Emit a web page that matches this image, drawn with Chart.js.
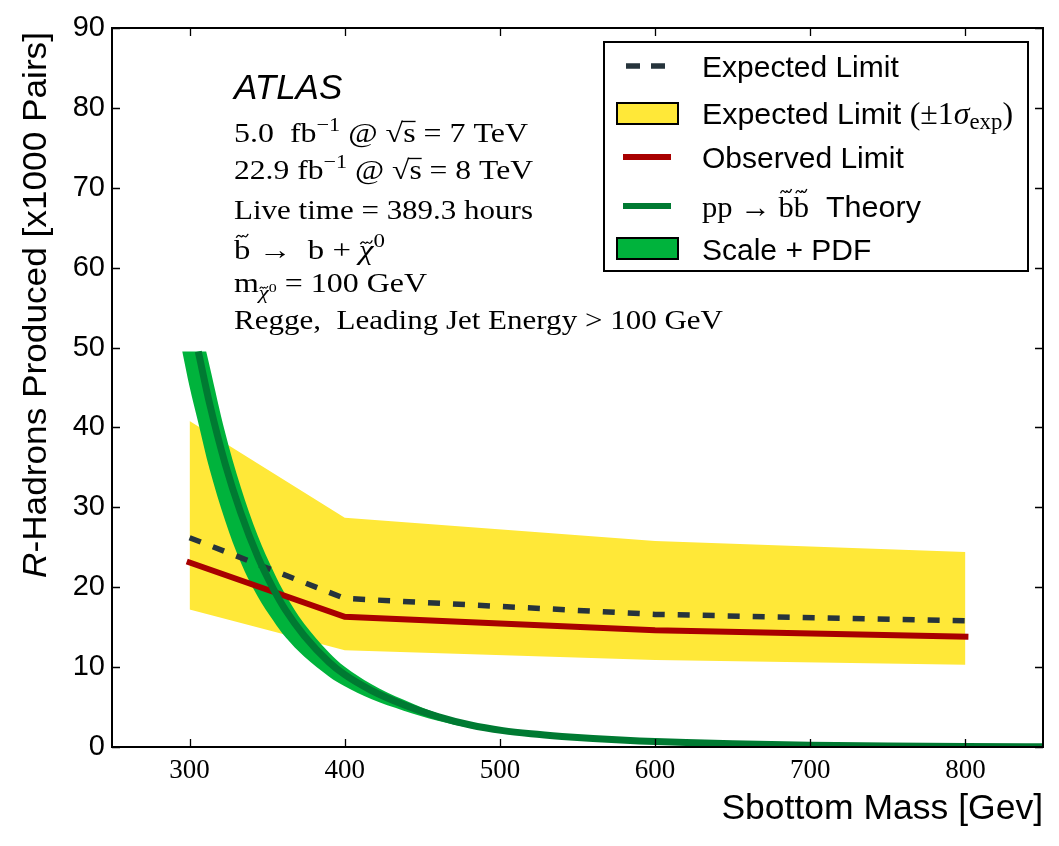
<!DOCTYPE html>
<html><head><meta charset="utf-8">
<script src="https://cdn.jsdelivr.net/npm/chart.js@4.4.1/dist/chart.umd.min.js"></script>
<style>html,body{margin:0;padding:0;background:#fff;}#wrap{position:relative;width:1059px;height:846px;}canvas{display:block;}</style>
</head><body><div id="wrap"><canvas id="c" width="1059" height="846"></canvas></div>
<script>
// ---- data ----
const massPoints    = [300, 400, 600, 800];
const expectedLimit = [26.2, 18.6, 16.6, 15.8];
const expectedUpper = [40.8, 28.7, 25.8, 24.4];
const expectedLower = [17.2, 12.1, 10.9, 10.3];
const observedLimit = [23.1, 16.3, 14.6, 13.8];

const theoryMass = [305.6, 313, 323, 333, 344, 354, 362, 374, 390, 400, 417, 438, 460, 481, 502, 520, 540, 560, 590, 620, 650, 700, 750, 800, 850];
const theoryXsec = [49.5, 42.9, 35.4, 29.3, 23.8, 19.8, 17.1, 13.9, 10.6, 9.05, 7.1, 5.3, 3.8, 2.75, 2.05, 1.65, 1.32, 1.06, 0.76, 0.55, 0.40, 0.23, 0.13, 0.07, 0.04];
const theoryUpMass = [310.7, 313, 323, 333, 344, 354, 362, 374, 390, 400, 417, 438, 460, 481, 502, 520, 540, 560, 590, 620, 650, 700, 750, 800, 850];
const theoryUp     = [49.5, 47.6, 39.3, 32.5, 26.4, 22.0, 19.0, 15.4, 11.8, 10.05, 7.9, 5.9, 4.2, 3.05, 2.27, 1.82, 1.45, 1.17, 0.83, 0.60, 0.44, 0.25, 0.14, 0.077, 0.044];
const theoryDownMass = [295.3, 300, 305.6, 313, 323, 333, 344, 354, 362, 374, 390, 400, 417, 438, 460, 481, 502, 520, 540, 560, 590, 620, 650, 700, 750, 800, 850];
const theoryDown     = [49.5, 45.1, 40.6, 34.7, 28.3, 23.1, 18.8, 15.8, 13.7, 11.3, 8.8, 7.6, 6.0, 4.55, 3.3, 2.4, 1.8, 1.45, 1.16, 0.93, 0.67, 0.48, 0.35, 0.20, 0.115, 0.062, 0.035];

const xTickValues = [300, 400, 500, 600, 700, 800];
const yTickValues = [0, 10, 20, 30, 40, 50, 60, 70, 80, 90];

const legendLabels = ['Expected Limit', 'Expected Limit', 'Observed Limit', 'Theory', 'Scale + PDF'];
const xTitle = 'Sbottom Mass [Gev]';
const yTitleItalic = 'R';
const yTitleRest = '-Hadrons Produced [x1000 Pairs]';

// ---- colours ----
const C_YELLOW = '#ffe838';
const C_GREEN_BAND = '#00b33c';
const C_GREEN_LINE = '#007a32';
const C_RED = '#a80000';
const C_DASH = '#26343c';

const pts = (xs, ys) => xs.map((x, i) => ({x, y: ys[i]}));
const bandShape = pts(theoryDownMass, theoryDown).concat(pts(theoryUpMass, theoryUp).reverse());

const SERIF = '"Liberation Serif", "DejaVu Serif", serif';
const SANS = '"Liberation Sans", Arial, sans-serif';

function segFont(s, base) {
  const size = base * (s.k || 1);
  return (s.it ? 'italic ' : '') + size + 'px ' + (s.sans ? SANS : SERIF);
}
function drawRich(ctx, segs, x, y, base, targetW) {
  let nat = 0;
  for (const s of segs) { ctx.font = segFont(s, base); nat += ctx.measureText(s.t).width; }
  const sx = targetW ? targetW / nat : 1;
  ctx.save();
  ctx.translate(x, y);
  ctx.scale(sx, 1);
  ctx.textAlign = 'left';
  ctx.textBaseline = 'alphabetic';
  let cx = 0;
  for (const s of segs) {
    ctx.font = segFont(s, base);
    const w = ctx.measureText(s.t).width;
    const dy = (s.dy || 0) * base;
    ctx.fillText(s.t, cx, dy);
    const size = base * (s.k || 1);
    if (s.tilde) {
      const cxm = cx + w / 2 + (s.tx || 0) * size;
      const hy = dy - s.tilde * size;
      const tw = 0.36 * size, th = 0.07 * size;
      ctx.save();
      ctx.lineWidth = Math.max(1, 0.045 * size);
      ctx.beginPath();
      ctx.moveTo(cxm - tw / 2, hy + th);
      ctx.bezierCurveTo(cxm - tw / 4, hy - th * 2, cxm - tw / 8, hy + th * 1.5, cxm, hy + th * 0.3);
      ctx.bezierCurveTo(cxm + tw / 8, hy - th * 1.2, cxm + tw / 4, hy + th * 2.5, cxm + tw / 2, hy - th);
      ctx.stroke();
      ctx.restore();
    }
    if (s.over) {
      ctx.save();
      ctx.lineWidth = Math.max(1, 0.05 * size);
      ctx.beginPath();
      ctx.moveTo(cx - s.over * size, dy - 0.76 * size);
      ctx.lineTo(cx + w, dy - 0.76 * size);
      ctx.stroke();
      ctx.restore();
    }
    cx += w;
  }
  ctx.restore();
}

const decorations = {
  id: 'decorations',
  afterDraw(chart) {
    const ctx = chart.ctx;
    const a = chart.chartArea;
    const xs = chart.scales.x, ys = chart.scales.y;
    ctx.save();
    // ticks (inward, all four sides)
    ctx.strokeStyle = '#000';
    ctx.lineWidth = 1.3;
    const tl = 8;
    ctx.beginPath();
    for (const v of xTickValues) {
      const p = Math.round(xs.getPixelForValue(v)) + 0.5;
      ctx.moveTo(p, a.bottom); ctx.lineTo(p, a.bottom - tl);
      ctx.moveTo(p, a.top); ctx.lineTo(p, a.top + tl);
    }
    for (const v of yTickValues) {
      const p = Math.round(ys.getPixelForValue(v)) + 0.5;
      ctx.moveTo(a.left, p); ctx.lineTo(a.left + tl, p);
      ctx.moveTo(a.right, p); ctx.lineTo(a.right - tl, p);
    }
    ctx.stroke();
    // frame
    ctx.lineWidth = 2;
    ctx.strokeRect(a.left, a.top, a.right - a.left, a.bottom - a.top);

    ctx.fillStyle = '#000';
    // axis titles
    ctx.font = '35.5px ' + SANS;
    ctx.textAlign = 'right';
    ctx.textBaseline = 'alphabetic';
    ctx.fillText(xTitle, a.right, 819);

    ctx.save();
    ctx.translate(46, 578);
    ctx.rotate(-Math.PI / 2);
    drawRich(ctx, [{t: yTitleItalic, sans: true, it: true}, {t: yTitleRest, sans: true}], 0, 0, 33, 546);
    ctx.restore();

    // ATLAS label and info text
    ctx.font = 'italic 35px ' + SANS;
    ctx.textAlign = 'left';
    ctx.fillText('ATLAS', 234, 99);

    const B = 27;
    drawRich(ctx, [{t: '5.0  fb'}, {t: '\u22121', k: 0.7, dy: -0.42}, {t: ' @ '}, {t: '\u221a'}, {t: 's', over: 0.05}, {t: ' = 7 TeV'}], 234, 142, B, 294);
    drawRich(ctx, [{t: '22.9 fb'}, {t: '\u22121', k: 0.7, dy: -0.42}, {t: ' @ '}, {t: '\u221a'}, {t: 's', over: 0.05}, {t: ' = 8 TeV'}], 234, 179, B, 299);
    drawRich(ctx, [{t: 'Live time = 389.3 hours'}], 234, 219, B, 299);
    drawRich(ctx, [{t: 'b', tilde: 0.86}, {t: ' \u2192  b + '}, {t: '\u03c7', it: true, tilde: 0.62}, {t: '0', k: 0.7, dy: -0.45}], 234, 259, B, 151);
    drawRich(ctx, [{t: 'm'}, {t: '\u03c7', it: true, k: 0.7, dy: 0.25, tilde: 0.6}, {t: '0', k: 0.5, dy: 0.0}, {t: ' = 100 GeV'}], 234, 292, B, 193);
    drawRich(ctx, [{t: 'Regge,  Leading Jet Energy > 100 GeV'}], 234, 329, B, 489);

    // legend
    ctx.fillStyle = '#fff';
    ctx.fillRect(604, 42, 424, 229);
    ctx.strokeStyle = '#000';
    ctx.lineWidth = 2;
    ctx.strokeRect(604, 42, 424, 229);

    // row 1: dashed
    ctx.save();
    ctx.strokeStyle = C_DASH; ctx.lineWidth = 5.5; ctx.setLineDash([14, 11]);
    ctx.beginPath(); ctx.moveTo(626, 66); ctx.lineTo(665, 66); ctx.stroke();
    ctx.restore();
    // row 2: yellow box
    ctx.fillStyle = C_YELLOW; ctx.fillRect(617, 103, 61, 21);
    ctx.strokeStyle = '#000'; ctx.lineWidth = 2; ctx.strokeRect(617, 103, 61, 21);
    // row 3: red line
    ctx.strokeStyle = C_RED; ctx.lineWidth = 6;
    ctx.beginPath(); ctx.moveTo(623, 157); ctx.lineTo(671, 157); ctx.stroke();
    // row 4: green line
    ctx.strokeStyle = C_GREEN_LINE; ctx.lineWidth = 6;
    ctx.beginPath(); ctx.moveTo(623, 206); ctx.lineTo(671, 206); ctx.stroke();
    // row 5: green box
    ctx.fillStyle = C_GREEN_BAND; ctx.fillRect(617, 238, 61, 21);
    ctx.strokeStyle = '#000'; ctx.lineWidth = 2; ctx.strokeRect(617, 238, 61, 21);

    ctx.fillStyle = '#000';
    const L = 30;
    drawRich(ctx, [{t: legendLabels[0], sans: true}], 702, 77, L);
    drawRich(ctx, [{t: legendLabels[1] + ' ', sans: true}, {t: '(\u00b11', k: 1.05}, {t: '\u03c3', it: true, k: 1.05}, {t: 'exp', k: 0.75, dy: 0.18}, {t: ')', k: 1.05}], 702, 124, L, 311);
    drawRich(ctx, [{t: legendLabels[2], sans: true}], 702, 168, L);
    drawRich(ctx, [{t: 'pp \u2192 '}, {t: 'b', tilde: 0.86}, {t: 'b', tilde: 0.86}, {t: '  ' + legendLabels[3], sans: true}], 702, 217, L, 219);
    drawRich(ctx, [{t: legendLabels[4], sans: true}], 702, 260, L);
    ctx.restore();
  }
};

new Chart(document.getElementById('c'), {
  type: 'line',
  data: {
    datasets: [
      { label: 'band-up', data: pts(massPoints, expectedUpper), borderWidth: 0, pointRadius: 0, backgroundColor: C_YELLOW, fill: '+1', order: 6, tension: 0 },
      { label: 'band-down', data: pts(massPoints, expectedLower), borderWidth: 0, pointRadius: 0, backgroundColor: C_YELLOW, fill: false, order: 6, tension: 0 },
      { label: 'Scale + PDF', data: bandShape, borderWidth: 0, pointRadius: 0, backgroundColor: C_GREEN_BAND, fill: 'shape', order: 5, tension: 0.35 },
      { label: 'Expected Limit', data: pts(massPoints, expectedLimit), borderColor: C_DASH, borderWidth: 5.5, borderDash: [12, 13], borderCapStyle: 'butt', pointRadius: 0, fill: false, order: 4, tension: 0 },
      { label: 'Observed Limit', data: pts(massPoints, observedLimit), borderColor: C_RED, borderWidth: 6, borderCapStyle: 'square', pointRadius: 0, fill: false, order: 3, tension: 0 },
      { label: 'Theory', data: pts(theoryMass, theoryXsec), borderColor: C_GREEN_LINE, borderWidth: 7, borderCapStyle: 'butt', pointRadius: 0, fill: false, order: 2, cubicInterpolationMode: 'monotone' }
    ]
  },
  options: {
    responsive: false,
    animation: false,
    devicePixelRatio: 1,
    layout: { padding: { left: 0, right: 16, top: 28, bottom: 0 } },
    plugins: { legend: { display: false }, tooltip: { enabled: false } },
    scales: {
      x: {
        type: 'linear', min: 250, max: 850,
        ticks: { color: '#000', padding: 8, maxRotation: 0, font: { family: SERIF, size: 27 } },
        afterBuildTicks: s => { s.ticks = xTickValues.map(v => ({value: v})); },
        grid: { display: false, drawTicks: false },
        border: { display: false },
        afterFit: s => { s.height = 99; }
      },
      y: {
        type: 'linear', min: 0, max: 90,
        ticks: { color: '#000', padding: 7, font: { family: SANS, size: 29 } },
        afterBuildTicks: s => { s.ticks = yTickValues.map(v => ({value: v})); },
        grid: { display: false, drawTicks: false },
        border: { display: false },
        afterFit: s => { s.width = 112; }
      }
    }
  },
  plugins: [decorations]
});
</script>
</body></html>
